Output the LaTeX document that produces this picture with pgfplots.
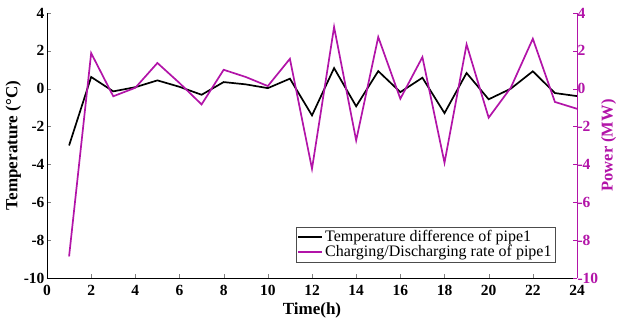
\documentclass[border=0pt]{standalone}
\usepackage{pgfplots}
\pgfplotsset{compat=1.18}
\usepackage{fontspec}
\setmainfont{Liberation Serif}
\definecolor{mag}{RGB}{178,20,168}
\begin{document}
\begin{tikzpicture}
\begin{axis}[
  name=ax1,
  scale only axis, width=530pt, height=265pt,
  xmin=0, xmax=24, ymin=-10, ymax=4,
  xtick={0,2,...,24}, ytick={-10,-8,...,4},
  axis x line*=bottom, axis y line*=left,
  tick align=inside,
  /pgf/number format/assume math mode=true,
  ticklabel style={font=\fontsize{15.5}{17}\selectfont\bfseries},
  xticklabel style={yshift=-4pt},
  yticklabel style={xshift=1pt},
  xlabel={Time(h)}, ylabel={Temperature (°C)},
  label style={font=\fontsize{17}{19}\selectfont\bfseries},
  xlabel style={yshift=0pt},
  ylabel style={yshift=-4pt},
  legend style={at={(0.959,0.06)}, anchor=south east, font=\fontsize{16}{17}\selectfont, draw=black!70, inner sep=1.5pt, row sep=-1.5pt, legend cell align=left},
  legend image code/.code={\draw[#1, line width=1.6pt] (0cm,0cm) -- (0.85cm,0cm);},
]
\addplot[black, line width=1.7pt] coordinates {
(1,-3.0) (2,0.62) (3,-0.14) (4,0.08) (5,0.44) (6,0.1) (7,-0.32) (8,0.35) (9,0.23) (10,0.03) (11,0.53) (12,-1.41)
(13,1.09) (14,-0.93) (15,0.93) (16,-0.18) (17,0.58) (18,-1.29) (19,0.83) (20,-0.56) (21,0.0) (22,0.92) (23,-0.23) (24,-0.39)};
\addlegendentry{Temperature difference of pipe1}
\addlegendimage{mag}
\addlegendentry{Charging/Discharging rate of pipe1}
\coordinate (ll) at (rel axis cs:0,0);
\coordinate (ur) at (rel axis cs:1,1);
\end{axis}
\begin{axis}[
  scale only axis, width=530pt, height=265pt,
  xmin=0, xmax=24, ymin=-10, ymax=4,
  ytick={-10,-8,...,4},
  axis x line=none, axis y line*=right,
  y axis line style={mag},
  ytick style={mag},
  tick align=inside,
  /pgf/number format/assume math mode=true,
  yticklabel style={font=\fontsize{15.5}{17}\selectfont\bfseries, text=mag, xshift=-3pt},
  ylabel={Power (MW)},
  ylabel style={font=\fontsize{16.5}{18}\selectfont\bfseries, text=mag, yshift=4pt},
]
\addplot[mag, line width=1.7pt] coordinates {
(1,-8.86) (2,1.88) (3,-0.4) (4,0.05) (5,1.36) (6,0.3) (7,-0.83) (8,1.0) (9,0.62) (10,0.14) (11,1.58) (12,-4.23)
(13,3.26) (14,-2.73) (15,2.73) (16,-0.53) (17,1.67) (18,-3.91) (19,2.34) (20,-1.53) (21,0.05) (22,2.64) (23,-0.7) (24,-1.06)};
\end{axis}
\pgfresetboundingbox
\path ([shift={(-47pt,-48pt)}]ll) rectangle ([shift={(42pt,13pt)}]ur);
\end{tikzpicture}
\end{document}
